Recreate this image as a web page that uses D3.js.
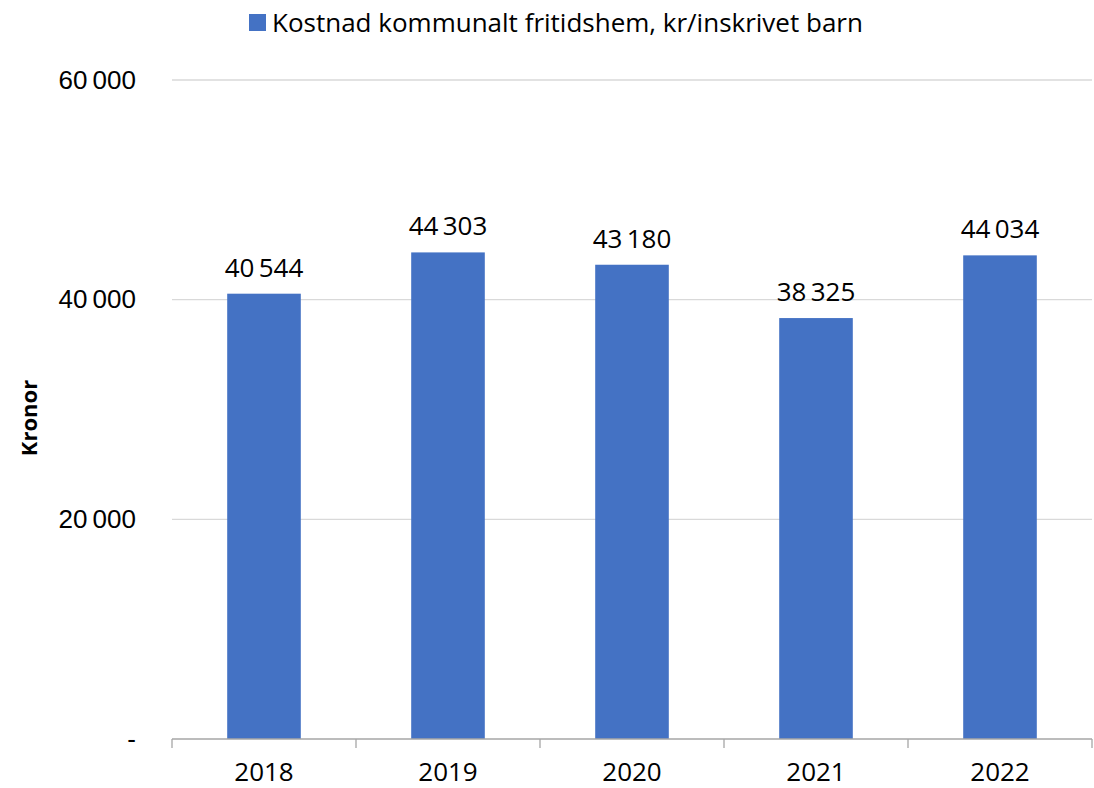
<!DOCTYPE html>
<html>
<head>
<meta charset="utf-8">
<script src="https://cdn.jsdelivr.net/npm/d3@7"></script>
<style>
    body { margin: 0; background: #fff; }
    svg { display: block; font-family: "Open Sans", "Noto Sans", sans-serif; }
</style>
</head>
<body>
<svg id="chart" width="1094" height="788"></svg>
<script>
// ----- data
var years = ["2018", "2019", "2020", "2021", "2022"];
var costs = [40544, 44303, 43180, 38325, 44034];
var yTicks = [0, 20000, 40000, 60000];
var seriesName = "Kostnad kommunalt fritidshem, kr/inskrivet barn";
var yLabel = "Kronor";

function fmt(v) {
    if (v === 0) return "-";
    return d3.format(",")(v).replace(/,/g, "\u2009");
}

function drawChart() {
    var svg = d3.select("#chart"),
        margin = { top: 80, right: 2, bottom: 49, left: 172 },
        width = +svg.attr("width") - margin.left - margin.right,
        height = +svg.attr("height") - margin.top - margin.bottom,
        g = svg.append("g").attr("transform", "translate(" + margin.left + "," + margin.top + ")");

    var x = d3.scaleBand().domain(years).range([0, width]).paddingInner(0.6).paddingOuter(0.3);
    var y = d3.scaleLinear().domain([0, 60000]).range([height, 0]);

    // gridlines
    g.append("g")
        .selectAll("line")
        .data(yTicks.filter(function (d) { return d > 0; }))
        .enter().append("line")
        .attr("x1", 0).attr("x2", width)
        .attr("y1", function (d) { return y(d); })
        .attr("y2", function (d) { return y(d); })
        .attr("stroke", "#d9d9d9")
        .attr("stroke-width", 1.3);

    // y axis labels
    var yAxis = g.append("g")
        .call(d3.axisLeft(y).tickValues(yTicks).tickFormat(fmt).tickSize(0).tickPadding(36));
    yAxis.select(".domain").remove();
    yAxis.selectAll("text")
        .attr("fill", "#000")
        .style("font-size", "26px")
        .style("font-family", "inherit");

    // bars
    g.selectAll(".bar")
        .data(costs)
        .enter().append("rect")
        .attr("class", "bar")
        .attr("x", function (d, i) { return x(years[i]); })
        .attr("y", function (d) { return y(d); })
        .attr("width", x.bandwidth())
        .attr("height", function (d) { return height - y(d); })
        .attr("fill", "#4472c4");

    // value labels
    g.selectAll(".val")
        .data(costs)
        .enter().append("text")
        .attr("class", "val")
        .attr("x", function (d, i) { return x(years[i]) + x.bandwidth() / 2; })
        .attr("y", function (d) { return y(d) - 17; })
        .attr("text-anchor", "middle")
        .style("font-size", "26px")
        .attr("fill", "#000")
        .text(fmt);

    // x axis with boundary ticks
    var step = x.step();
    var xa = g.append("g").attr("transform", "translate(0," + height + ")");
    xa.append("line")
        .attr("x1", 0).attr("x2", width)
        .attr("stroke", "#a6a6a6").attr("stroke-width", 1.3);
    xa.selectAll(".tk")
        .data(d3.range(years.length + 1))
        .enter().append("line")
        .attr("class", "tk")
        .attr("x1", function (i) { return i * step; })
        .attr("x2", function (i) { return i * step; })
        .attr("y1", 0).attr("y2", 9)
        .attr("stroke", "#a6a6a6").attr("stroke-width", 1.3);
    xa.selectAll(".xl")
        .data(years)
        .enter().append("text")
        .attr("class", "xl")
        .attr("x", function (d) { return x(d) + x.bandwidth() / 2; })
        .attr("y", 42)
        .attr("text-anchor", "middle")
        .style("font-size", "26px")
        .attr("fill", "#000")
        .text(function (d) { return d; });

    // y axis title
    svg.append("text")
        .attr("transform", "translate(37,418) rotate(-90)")
        .attr("text-anchor", "middle")
        .style("font-size", "22px")
        .style("font-weight", "bold")
        .text(yLabel);

    // legend
    var lg = svg.append("g").attr("transform", "translate(249,14)");
    lg.append("rect").attr("width", 17).attr("height", 17).attr("fill", "#4472c4");
    lg.append("text")
        .attr("x", 23).attr("y", 18)
        .style("font-size", "26px")
        .attr("fill", "#000")
        .text(seriesName);
}

drawChart();
</script>
</body>
</html>
